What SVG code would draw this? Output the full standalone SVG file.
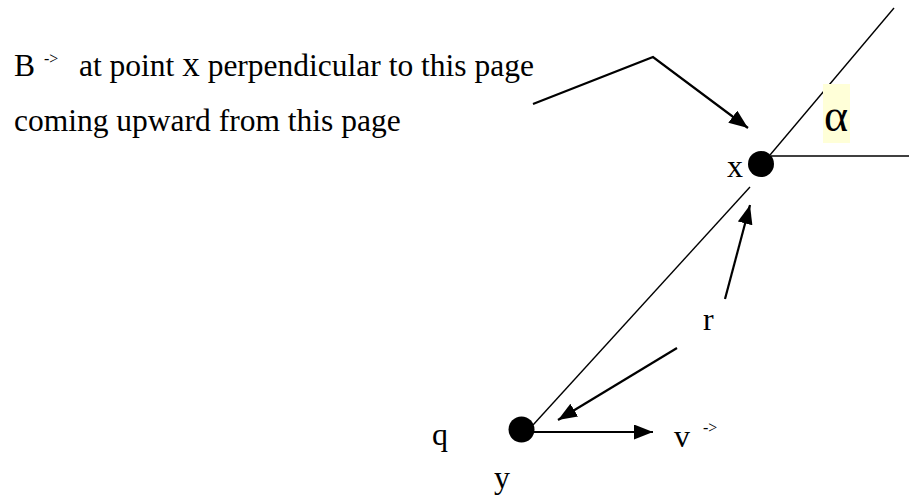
<svg xmlns="http://www.w3.org/2000/svg" width="909" height="500" viewBox="0 0 909 500">
<style>
text{font-family:'Liberation Serif','Times New Roman',serif;fill:#000}
.lbl{font-size:32px}
.main{font-size:31.5px}
.sup{font-size:16px}
.thin{stroke:#000;stroke-width:1.4;fill:none}
.arr{stroke:#000;stroke-width:2.2;fill:none;marker-end:url(#ah)}
</style>
<defs>
<marker id="ah" markerUnits="userSpaceOnUse" markerWidth="21" markerHeight="15" refX="19" refY="7.5" orient="auto">
<path d="M0,0 L19,7.5 L0,15 Z" fill="#000"/>
</marker>
</defs>
<rect width="909" height="500" fill="#fff"/>
<g id="caption">
<text class="main" x="14" y="76">B</text>
<text class="sup" x="44" y="64">-&gt;</text>
<text class="main" x="79" y="76">at point <tspan font-size="35">x</tspan> perpendicular to this page</text>
<text class="main" x="14" y="131">coming upward from this page</text>
</g>
<g id="connectors">
<polyline class="arr" points="533,104 653,57 748,128"/>
<line class="thin" x1="533" y1="425" x2="750" y2="187"/>
<line class="thin" x1="770" y1="155" x2="894" y2="8"/>
<line class="thin" x1="771" y1="156" x2="909" y2="156" stroke-width="1.6"/>
<line class="arr" x1="725" y1="299" x2="750" y2="205"/>
<line class="arr" x1="677" y1="348" x2="558" y2="420"/>
<line class="arr" x1="532" y1="432" x2="653" y2="432"/>
</g>
<g id="node-x">
<circle cx="761" cy="164" r="13" fill="#000"/>
<text class="lbl" x="727" y="177">x</text>
</g>
<g id="angle-alpha">
<rect x="823" y="84" width="27" height="59" fill="#ffffd8"/>
<text x="824" y="131" font-size="46">α</text>
</g>
<g id="label-r">
<text class="lbl" x="703" y="330">r</text>
</g>
<g id="node-y">
<circle cx="521.5" cy="429.5" r="13" fill="#000"/>
<text class="lbl" x="432" y="445">q</text>
<text class="lbl" x="494" y="488">y</text>
</g>
<g id="label-v">
<text class="lbl" x="674" y="447">v</text>
<text class="sup" x="703" y="433">-&gt;</text>
</g>
</svg>
